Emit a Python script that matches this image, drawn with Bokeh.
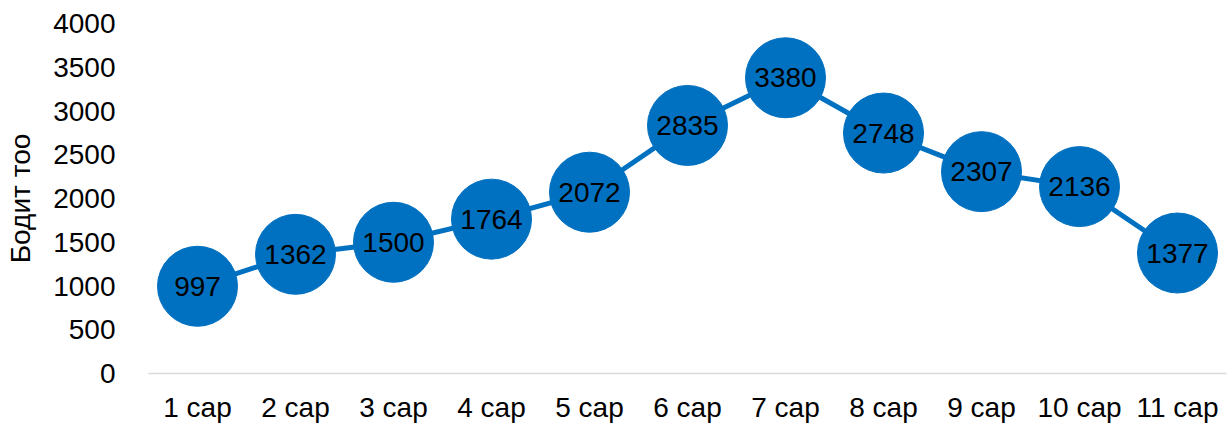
from bokeh.plotting import figure
from bokeh.models import ColumnDataSource, FactorRange, Range1d, SingleIntervalTicker
from bokeh.core.properties import value
from bokeh.embed import file_html
from bokeh.resources import INLINE

months = ["1 сар", "2 сар", "3 сар", "4 сар", "5 сар", "6 сар", "7 сар", "8 сар", "9 сар", "10 сар", "11 сар"]
counts = [997, 1362, 1500, 1764, 2072, 2835, 3380, 2748, 2307, 2136, 1377]
y_label = "Бодит тоо"

src = ColumnDataSource(dict(x=months, y=counts, lbl=[str(v) for v in counts]))

p = figure(width=1227, height=425, x_range=FactorRange(*months, range_padding=0),
           y_range=Range1d(0, 4000), output_backend="svg", toolbar_location=None,
           min_border_left=148, min_border_right=1, min_border_top=23, min_border_bottom=52)
p.outline_line_color = None
p.grid.grid_line_color = None

blue = "#0070C0"
font = "Liberation Sans"
fs = "28px"

p.line("x", "y", source=src, line_color=blue, line_width=5)
p.scatter("x", "y", source=src, size=80, fill_color=blue, line_color=blue)
p.text("x", "y", text="lbl", source=src, text_align="center", text_baseline="middle",
       text_font=value(font), text_font_size=fs, text_color="black")

p.yaxis.ticker = SingleIntervalTicker(interval=500)
p.yaxis.axis_line_color = None
p.yaxis.major_tick_line_color = None
p.yaxis.minor_tick_line_color = None
p.yaxis.major_label_text_font = font
p.yaxis.major_label_text_font_size = fs
p.yaxis.major_label_text_color = "black"
p.yaxis.major_label_standoff = 27
p.yaxis.axis_label = y_label
p.yaxis.axis_label_text_font = font
p.yaxis.axis_label_text_font_size = fs
p.yaxis.axis_label_text_font_style = "normal"
p.yaxis.axis_label_text_color = "black"
p.yaxis.axis_label_standoff = 14

p.xaxis.axis_line_color = "#d9d9d9"
p.xaxis.axis_line_width = 1.5
p.xaxis.major_tick_line_color = None
p.xaxis.minor_tick_line_color = None
p.xaxis.major_label_text_font = font
p.xaxis.major_label_text_font_size = fs
p.xaxis.major_label_text_color = "black"
p.xaxis.major_label_standoff = 12

open("out.html", "w").write(file_html(p, INLINE))
